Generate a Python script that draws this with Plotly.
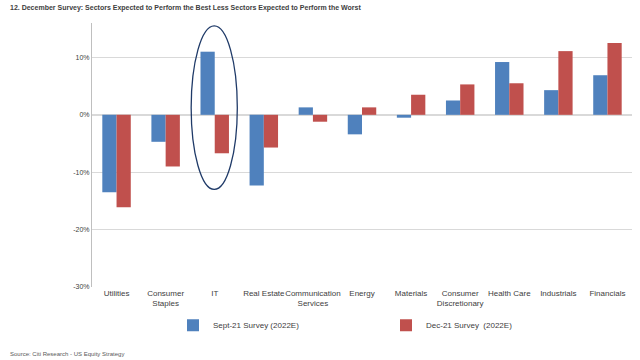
import plotly.graph_objects as go

categories = ["Utilities", "Consumer<br>Staples", "IT", "Real Estate", "Communication<br>Services",
              "Energy", "Materials", "Consumer<br>Discretionary", "Health Care", "Industrials", "Financials"]
sept21 = [-13.5, -4.7, 11.0, -12.3, 1.3, -3.4, -0.5, 2.5, 9.2, 4.3, 6.9]
dec21 = [-16.1, -9.0, -6.7, -5.7, -1.2, 1.3, 3.5, 5.3, 5.5, 11.1, 12.5]
series_names = ["Sept-21 Survey (2022E)", "Dec-21 Survey  (2022E)"]
y_ticks = [-30, -20, -10, 0, 10]
y_tick_labels = ["-30%", "-20%", "-10%", "0%", "10%"]

font = "Liberation Sans, Arial, sans-serif"
fig = go.Figure()
fig.add_trace(go.Bar(x=categories, y=sept21, name=series_names[0], marker_color="#4F81BD", marker_line_width=0))
fig.add_trace(go.Bar(x=categories, y=dec21, name=series_names[1], marker_color="#C0504D", marker_line_width=0))

fig.add_shape(type="circle", xref="x", yref="y", x0=1.52, x1=2.46, y0=-13.0, y1=15.5,
              line=dict(color="#1F3A68", width=1.3))

fig.update_layout(
    width=640, height=360,
    paper_bgcolor="white", plot_bgcolor="white",
    margin=dict(l=92, r=8, t=23, b=73, autoexpand=False),
    barmode="group", bargap=0.42, bargroupgap=0,
    font=dict(family=font, size=8, color="#404040"),
    showlegend=True,
    legend=dict(orientation="h", x=0.15, xanchor="left", y=-0.145, yanchor="middle",
                entrywidth=168, font=dict(size=8, color="#404040"), itemwidth=30),
    xaxis=dict(showgrid=False, showline=False, ticks="", tickangle=0, automargin=False,
               tickfont=dict(size=8, color="#404040", family=font)),
    yaxis=dict(range=[-30, 16], tickvals=y_ticks, ticktext=y_tick_labels, showgrid=True,
               gridcolor="#D9D9D9", gridwidth=1, zeroline=True, zerolinecolor="#D9D9D9",
               showline=True, linecolor="#BFBFBF", ticks="", automargin=False,
               tickfont=dict(size=7, color="#404040", family=font)),
    hovermode=False,
    annotations=[
        dict(text="<b>12. December Survey: Sectors Expected to Perform the Best Less Sectors Expected to Perform the Worst</b>",
             xref="paper", yref="paper", x=-0.155, y=1.0, yshift=21, xanchor="left", yanchor="top",
             showarrow=False, font=dict(size=7, color="#404040", family=font)),
        dict(text="Source: Citi Research - US Equity Strategy", xref="paper", yref="paper",
             x=-0.155, y=-0.254, xanchor="left", yanchor="middle", showarrow=False,
             font=dict(size=6, color="#595959", family=font)),
    ],
)
fig.write_html("out.html", config={"displayModeBar": False},
               post_script="document.body.style.margin='0';")
